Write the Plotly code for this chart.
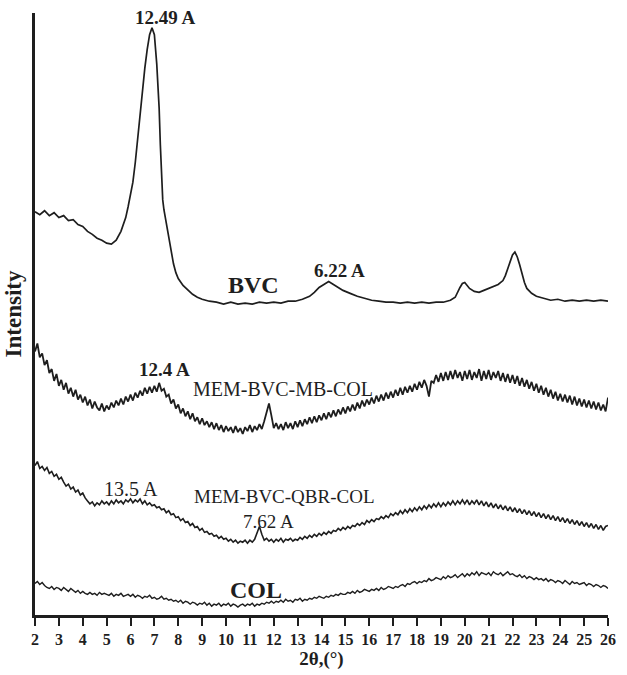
import plotly.graph_objects as go

# ---------------- data (intensity, arbitrary stacked units) ----------------
bvc_x = [2.0,2.2,2.4,2.6,2.8,3.0,3.2,3.4,3.6,3.8,4.0,4.2,4.4,4.6,4.8,5.0,5.2,5.4,5.6,5.8,
         5.9,6.0,6.1,6.2,6.3,6.4,6.5,6.6,6.7,6.8,6.9,7.0,7.1,7.2,7.25,7.3,7.35,7.4,7.5,7.6,
         7.7,7.8,7.9,8.0,8.2,8.4,8.6,8.8,9.0,9.3,9.6,9.9,10.2,10.5,10.8,11.1,11.4,11.7,12.0,12.3,
         12.6,12.9,13.2,13.5,13.7,13.9,14.1,14.3,14.5,14.7,14.9,15.2,15.5,15.8,16.1,16.4,16.7,17.0,17.3,17.6,
         17.9,18.2,18.5,18.8,19.1,19.4,19.6,19.8,19.9,20.0,20.1,20.2,20.4,20.6,20.8,21.0,21.2,21.4,21.6,21.7,
         21.8,21.9,22.0,22.1,22.2,22.3,22.4,22.5,22.6,22.8,23.0,23.3,23.6,23.9,24.2,24.5,24.8,25.1,25.4,25.7,26.0]
bvc_y = [410,407,411,406,409,404,406,401,402,397,395,390,387,383,381,378,377,381,390,404,
         415,426,440,460,485,508,528,556,575,590,597,590,560,515,478,440,422,412,398,382,
         368,357,348,342,335,330,326,323,321,319,318,316,318,316,317,316,318,317,318,317,
         319,319,321,324,328,333,336,339,336,333,330,327,324,322,320,319,318,318,317,318,
         317,318,317,318,318,320,323,333,337,338,335,332,329,328,330,332,334,336,340,345,
         352,360,366,369,364,356,346,338,332,327,324,322,320,321,319,320,319,320,319,320,319]

# MEM-BVC-MB-COL, sampled every 0.1 deg from 2.0 to 26.0
mb_y = [268,276,262,266,254,259,246,250,238,245,
        233,239,229,236,225,231,222,229,219,224,
        216,222,213,219,210,217,211,208,215,207,
        213,209,216,211,218,213,220,214,222,217,
        224,218,226,221,228,223,231,225,232,226,
        233,227,236,228,230,222,224,215,219,210,
        214,205,210,202,207,199,205,197,201,194,
        200,193,197,191,196,189,195,188,193,186,
        192,187,191,185,192,186,190,184,191,187,
        193,186,192,188,194,189,197,207,215,203,
        190,195,189,194,188,196,190,195,189,197,
        191,198,192,199,194,201,195,202,196,203,
        198,205,199,206,201,208,202,209,204,211,
        205,212,207,214,208,216,210,218,212,219,
        214,221,215,223,217,224,218,226,220,227,
        221,229,223,231,224,232,226,233,227,235,
        229,237,231,239,233,222,238,236,244,237,
        246,238,247,239,248,240,249,241,247,238,
        248,240,249,239,247,241,250,238,248,240,
        249,239,247,241,248,238,246,237,245,236,
        244,235,243,233,241,232,239,230,237,228,
        235,226,233,224,231,222,229,220,227,218,
        225,217,224,216,223,214,222,213,220,212,
        219,211,218,210,217,209,216,208,214,207,
        221]

# MEM-BVC-QBR-COL, sampled every 0.1 deg from 2.0 to 26.0
qbr_y = [152,156,149,151,147,150,144,146,141,143,
         138,140,135,131,133,128,130,125,127,122,
         124,119,116,113,115,111,114,112,116,113,
         115,112,116,113,117,114,116,113,117,115,
         118,114,117,115,118,113,116,112,114,111,
         112,109,110,107,108,104,106,102,103,99,
         100,96,98,94,95,91,93,89,90,86,
         88,84,85,82,83,80,81,78,80,77,
         78,75,77,74,76,73,75,74,76,73,
         76,74,77,84,90,82,76,78,75,77,
         74,77,75,78,74,77,76,78,75,77,
         76,79,77,80,78,81,79,82,80,83,
         81,84,82,85,83,86,85,88,86,89,
         87,90,88,91,90,93,91,94,92,96,
         94,97,95,98,97,100,98,101,99,103,
         101,104,102,106,103,107,104,108,105,109,
         106,110,107,111,108,112,109,113,110,114,
         110,114,111,115,112,116,112,116,113,117,
         113,117,112,116,113,117,112,116,111,115,
         110,114,109,113,108,112,107,111,106,110,
         105,109,104,108,103,107,102,106,101,105,
         100,104,99,103,98,102,97,101,96,100,
         95,99,94,98,93,97,92,96,91,95,
         90,94,89,93,88,92,87,91,86,90,
         91]

# COL, sampled every 0.1 deg from 2.0 to 26.0
col_y = [32,34,31,33,30,28,27,29,26,28,
         27,25,28,26,24,27,25,23,25,22,
         24,22,21,23,21,22,20,23,21,22,
         21,20,22,19,21,20,22,19,20,21,
         19,21,18,20,19,17,19,18,20,17,
         18,16,17,19,16,17,15,16,14,15,
         13,15,12,14,13,11,13,12,10,12,
         11,13,10,12,9,11,10,12,9,11,
         10,12,9,11,10,8,10,11,9,11,
         10,12,9,11,10,12,11,13,12,14,
         12,14,13,15,13,16,14,15,13,16,
         15,17,14,16,15,17,16,18,17,19,
         18,17,19,18,20,19,21,20,22,21,
         21,23,22,24,22,25,23,24,26,25,
         24,26,25,27,25,28,26,27,29,28,
         27,29,28,30,31,29,32,31,33,34,
         32,34,33,35,34,37,35,36,38,37,
         36,39,37,40,38,39,41,38,40,42,
         39,42,40,43,41,44,40,43,42,41,
         43,40,44,42,41,43,40,42,44,41,
         42,40,39,41,38,40,37,39,38,36,
         38,36,37,35,37,34,36,35,33,35,
         34,32,35,33,31,34,32,33,31,32,
         33,30,32,31,29,31,30,28,30,29,
         27]

def grid(vals):
    return [round(2.0 + 0.1 * i, 1) for i in range(len(vals))]

x_ticks = list(range(2, 27))

# labels: (text, x, y, bold, size)
labels = [
    ("12.49 A", 7.43, 607, True, 19),
    ("BVC", 11.14, 335, True, 24),
    ("6.22 A", 14.77, 350, True, 19),
    ("12.4 A", 7.43, 250, True, 19),
    ("MEM-BVC-MB-COL", 12.38, 230, False, 20),
    ("13.5 A", 6.02, 128, False, 20),
    ("MEM-BVC-QBR-COL", 12.47, 120, False, 19),
    ("7.62 A", 11.8, 95, False, 19),
    ("COL", 11.24, 25, True, 24),
]

FONT = "Liberation Serif, Times New Roman, serif"
INK = "#1e1e1e"

fig = go.Figure()
fig.add_trace(go.Scatter(x=bvc_x, y=bvc_y, mode="lines", name="BVC",
                         line=dict(color=INK, width=1.7)))
fig.add_trace(go.Scatter(x=grid(mb_y), y=mb_y, mode="lines", name="MEM-BVC-MB-COL",
                         line=dict(color=INK, width=1.8)))
fig.add_trace(go.Scatter(x=grid(qbr_y), y=qbr_y, mode="lines", name="MEM-BVC-QBR-COL",
                         line=dict(color=INK, width=1.6)))
fig.add_trace(go.Scatter(x=grid(col_y), y=col_y, mode="lines", name="COL",
                         line=dict(color=INK, width=1.4)))

for text, x, y, bold, size in labels:
    fig.add_annotation(x=x, y=y, text=text, showarrow=False,
                       font=dict(family=FONT, size=size, color=INK,
                                 weight="bold" if bold else "normal"))

fig.update_layout(
    width=627, height=675,
    margin=dict(l=35, r=11, t=13, b=50),
    paper_bgcolor="white", plot_bgcolor="white",
    showlegend=False,
    font=dict(family=FONT, color=INK),
)
fig.update_xaxes(
    range=[2, 26], tickmode="array", tickvals=x_ticks, ticktext=[str(t) for t in x_ticks],
    ticks="outside", ticklen=8, tickwidth=2, tickcolor=INK,
    tickfont=dict(family=FONT, size=16, color=INK, weight="bold"),
    showline=True, linewidth=3, linecolor=INK, mirror=False,
    showgrid=False, zeroline=False,
    title=dict(text="2θ,(°)", font=dict(family=FONT, size=19, color=INK, weight="bold"), standoff=2),
)
fig.update_yaxes(
    range=[0, 612], showticklabels=False, ticks="",
    showline=True, linewidth=3, linecolor=INK,
    showgrid=False, zeroline=False,
    title=dict(text="Intensity", font=dict(family=FONT, size=23, color=INK, weight="bold"), standoff=4),
)

fig.write_html("out.html")
